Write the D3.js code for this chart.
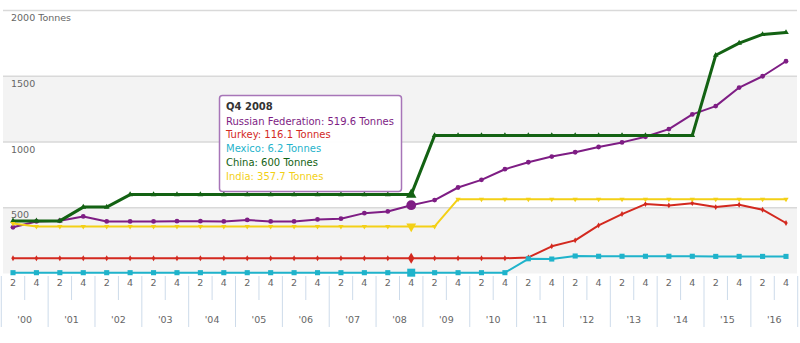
<!DOCTYPE html>
<html>
<head>
<meta charset="utf-8">
<script src="https://cdn.jsdelivr.net/npm/d3@7"></script>
<style>
  html, body { margin: 0; padding: 0; background: #fff; }
  svg { display: block; font-family: "DejaVu Sans", Verdana, sans-serif; }
</style>
</head>
<body>
<svg id="chart" width="800" height="343"></svg>
<script>
// ---- data ----
const years = ["'00","'01","'02","'03","'04","'05","'06","'07","'08","'09","'10","'11","'12","'13","'14","'15","'16"];
const quarterLabels = ["2", "4"];
const periods = years.flatMap((y, yi) => quarterLabels.map(q => ({ q: q, year: 2000 + yi, yl: y })));

const russia = [351,396,401,434,396,396,396,398,398,396,407,396,396,411,417,459,472,519.6,
                558,654,712,793,846,889,922,962,997,1040,1098,1210,1273,1414,1500,1614];
const turkey = [116.1,116.1,116.1,116.1,116.1,116.1,116.1,116.1,116.1,116.1,116.1,116.1,116.1,116.1,116.1,116.1,116.1,116.1,
                116.1,116.1,116.1,116.1,122,207,252,366,452,528,518,535,505,523,485,384];
const mexico = [6.2,6.2,6.2,6.2,6.2,6.2,6.2,6.2,6.2,6.2,6.2,6.2,6.2,6.2,6.2,6.2,6.2,6.2,
                6.2,6.2,6.2,6.2,112,110,133,131,131,131,131,131,130,130,130,130];
const china  = [400,400,400,505,505,600,600,600,600,600,600,600,600,600,600,600,600,600,
                1050,1050,1050,1050,1050,1050,1050,1050,1050,1050,1050,1050,1660,1752,1818,1833];
const india  = [380,357.7,357.7,357.7,357.7,357.7,357.7,357.7,357.7,357.7,357.7,357.7,357.7,357.7,357.7,357.7,357.7,357.7,
                357.7,565,565,565,565,565,565,565,565,565,565,565,565,565,565,565];

const seriesNames = ["Russian Federation", "Turkey", "Mexico", "China", "India"];
const yTicks = [500, 1000, 1500, 2000];
const yTickLabels = ["500", "1000", "1500", "2000 Tonnes"];
const unit = "Tonnes";
const hoverIndex = 17;

// ---- styling ----
const seriesData = [russia, turkey, mexico, china, india];
const colors = ["#7e1d84", "#d3291f", "#1fb3cb", "#136213", "#f3d016"];
const widths = [2, 2, 2, 3, 2];
const symbols = ["circle", "diamond", "square", "triangle", "triangleDown"];
const smallSize = [18, 10, 26, 14, 12];
const bigSize = [75, 36, 64, 48, 42];

const svg = d3.select("#chart");
const x = d3.scalePoint().domain(d3.range(periods.length)).range([13, 786]);
const step = x.step();
const y = d3.scaleLinear().domain([0, 2000]).range([273.5, 10.5]);
const left = 1, right = 799;

// bands
const bandDefs = [[0, 500, "#f3f3f3"], [500, 1000, "#ffffff"], [1000, 1500, "#f3f3f3"], [1500, 2000, "#ffffff"]];
svg.append("g").selectAll("rect").data(bandDefs).join("rect")
  .attr("x", left + 2).attr("width", right - left - 4)
  .attr("y", d => y(d[1])).attr("height", d => y(d[0]) - y(d[1]))
  .attr("fill", d => d[2]);

// gridlines
svg.append("g").selectAll("line").data(yTicks).join("line")
  .attr("x1", left + 2).attr("x2", right - 2)
  .attr("y1", d => y(d)).attr("y2", d => y(d))
  .attr("stroke", "#d9d9d9").attr("stroke-width", 1.5);

// y labels
svg.append("g").selectAll("text").data(yTicks).join("text")
  .attr("x", 11).attr("y", d => y(d) + 10.5)
  .attr("fill", "#666").attr("font-size", 9.5)
  .text((d, i) => yTickLabels[i]);

// x axis separators
const axisG = svg.append("g");
const yearBounds = d3.range(years.length + 1).map(k => x(0) + (2 * k - 0.5) * step);
axisG.selectAll("line.yb").data(yearBounds).join("line").attr("class", "yb")
  .attr("x1", d => d).attr("x2", d => d).attr("y1", 276).attr("y2", 327)
  .attr("stroke", "#cddbea").attr("stroke-width", 1);
const yearMids = years.map((yl, k) => x(2 * k) + step / 2);
axisG.selectAll("line.qm").data(yearMids).join("line").attr("class", "qm")
  .attr("x1", d => d).attr("x2", d => d).attr("y1", 276).attr("y2", 300)
  .attr("stroke", "#cddbea").attr("stroke-width", 1);
axisG.selectAll("text.q").data(periods).join("text").attr("class", "q")
  .attr("x", (d, i) => x(i)).attr("y", 286).attr("text-anchor", "middle")
  .attr("fill", "#666").attr("font-size", 9.5).text(d => d.q);
axisG.selectAll("text.yl").data(years).join("text").attr("class", "yl")
  .attr("x", (d, k) => yearMids[k]).attr("y", 323).attr("text-anchor", "middle")
  .attr("fill", "#666").attr("font-size", 9.5).text(d => d);

// symbols
function symPath(name, size) {
  if (name === "triangleDown") {
    return d3.symbol(d3.symbolTriangle, size)();
  }
  const map = { circle: d3.symbolCircle, diamond: d3.symbolDiamond, square: d3.symbolSquare, triangle: d3.symbolTriangle };
  return d3.symbol(map[name], size)();
}

const line = d3.line().x((d, i) => x(i)).y(d => y(d));
seriesData.forEach((data, s) => {
  const g = svg.append("g");
  g.append("path").attr("d", line(data)).attr("fill", "none")
    .attr("stroke", colors[s]).attr("stroke-width", widths[s]).attr("stroke-linejoin", "round");
  g.selectAll("path.m").data(data).join("path").attr("class", "m")
    .attr("d", (d, i) => symPath(symbols[s], i === hoverIndex ? bigSize[s] : smallSize[s]))
    .attr("transform", (d, i) => `translate(${x(i)},${y(d)})` + (symbols[s] === "triangleDown" ? " rotate(180)" : ""))
    .attr("fill", colors[s]);
});

// tooltip
const tip = svg.append("g");
tip.append("rect").attr("x", 219.5).attr("y", 95.5).attr("width", 182).attr("height", 96)
  .attr("rx", 3).attr("fill", "#fff").attr("fill-opacity", 0.95)
  .attr("stroke", "#a775b8").attr("stroke-width", 1.5);
const p = periods[hoverIndex];
tip.append("text").attr("x", 226).attr("y", 110).attr("font-size", 10).attr("font-weight", "bold")
  .attr("fill", "#333").text(`Q${p.q} ${p.year}`);
seriesNames.forEach((n, s) => {
  tip.append("text").attr("x", 226).attr("y", 124.5 + s * 13.9).attr("font-size", 10)
    .attr("fill", colors[s]).text(`${n}: ${seriesData[s][hoverIndex]} ${unit}`);
});
</script>
</body>
</html>
